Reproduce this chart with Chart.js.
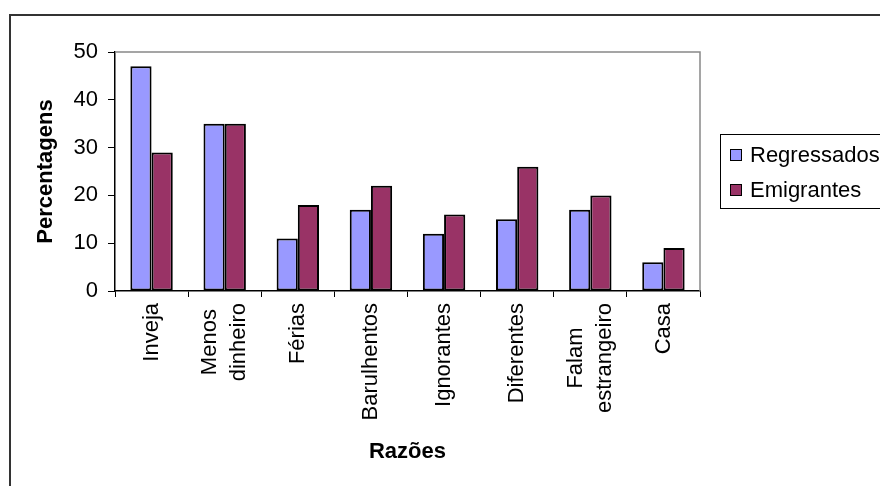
<!DOCTYPE html>
<html>
<head>
<meta charset="utf-8">
<script src="https://cdn.jsdelivr.net/npm/chart.js@4.4.1/dist/chart.umd.min.js"></script>
<style>
  html, body { margin: 0; padding: 0; background: #fff; }
  canvas { display: block; }
</style>
</head>
<body>
<canvas id="c" width="880" height="486"></canvas>
<script>
// Categories (reasons) and the two series, in percent
const categories = [
  'Inveja',
  ['Menos', 'dinheiro'],
  'Férias',
  'Barulhentos',
  'Ignorantes',
  'Diferentes',
  ['Falam', 'estrangeiro'],
  'Casa'
];
const regressados = [47, 35, 11, 17, 12, 15, 17, 6];
const emigrantes = [29, 35, 18, 22, 16, 26, 20, 9];
const seriesNames = ['Regressados', 'Emigrantes'];
const yTicks = [0, 10, 20, 30, 40, 50];

const FONT = '"Liberation Sans", Arial, sans-serif';

// White page, outer frame and the grey plot-area border
const framePlugin = {
  id: 'frame',
  beforeDraw(chart) {
    const ctx = chart.ctx;
    ctx.save();
    ctx.fillStyle = '#fff';
    ctx.fillRect(0, 0, chart.width, chart.height);
    ctx.strokeStyle = '#333';
    ctx.lineWidth = 2;
    ctx.beginPath();
    ctx.moveTo(10, chart.height + 2);
    ctx.lineTo(10, 15);
    ctx.lineTo(chart.width + 2, 15);
    ctx.stroke();
    ctx.restore();

    // Rotated category labels: centre the block on its tick and
    // centre the lines of a two-line label against each other
    const scale = chart.scales.x;
    const items = scale.getLabelItems();
    items.forEach(it => {
      if (it._centred) return;
      it._centred = true;
      const lines = Array.isArray(it.label) ? it.label : [it.label];
      ctx.save();
      ctx.font = it.font.string;
      const w = Math.max(...lines.map(l => ctx.measureText(l).width));
      ctx.restore();
      const [x, y] = it.options.translation;
      const lh = it.font.lineHeight;
      it.options.translation = [x - (lines.length - 1) * lh / 2, y + w / 2];
      it.options.textAlign = 'center';
    });
  },
  beforeDatasetsDraw(chart) {
    const { ctx, chartArea: a } = chart;
    ctx.save();
    ctx.strokeStyle = '#888';
    ctx.lineWidth = 1.5;
    ctx.beginPath();
    ctx.moveTo(a.left, a.top);
    ctx.lineTo(a.right, a.top);
    ctx.lineTo(a.right, a.bottom);
    ctx.stroke();
    ctx.restore();
  }
};

// Boxed legend on the right, built from the datasets
const boxLegend = {
  id: 'boxLegend',
  afterDraw(chart) {
    const ctx = chart.ctx;
    const x = 720, y = 134, h = 74;
    ctx.save();
    ctx.strokeStyle = '#000';
    ctx.lineWidth = 1;
    ctx.strokeRect(x + 0.5, y + 0.5, chart.width, h);
    ctx.font = '22px ' + FONT;
    ctx.textBaseline = 'middle';
    chart.data.datasets.forEach((ds, i) => {
      const cy = y + 21 + i * 35;
      ctx.fillStyle = ds.backgroundColor;
      ctx.fillRect(730, cy - 6, 12, 12);
      ctx.strokeStyle = '#000';
      ctx.lineWidth = 1;
      ctx.strokeRect(730.5, cy - 5.5, 11, 11);
      ctx.fillStyle = '#000';
      ctx.fillText(ds.label, 750, cy + 1);
    });
    ctx.restore();
  }
};

const barStyle = {
  borderColor: '#000',
  borderWidth: 2,
  borderSkipped: false,
  categoryPercentage: 0.58,
  barPercentage: 1.0
};

new Chart(document.getElementById('c'), {
  type: 'bar',
  data: {
    labels: categories,
    datasets: [
      Object.assign({ label: seriesNames[0], data: regressados, backgroundColor: '#9999FF' }, barStyle),
      Object.assign({ label: seriesNames[1], data: emigrantes, backgroundColor: '#993366' }, barStyle)
    ]
  },
  options: {
    responsive: false,
    animation: false,
    devicePixelRatio: 1,
    layout: { padding: { top: 52, right: 180, left: 0, bottom: 0 } },
    plugins: {
      legend: { display: false },
      tooltip: { enabled: false }
    },
    scales: {
      x: {
        afterFit(scale) { scale.height = 195; },
        offset: true,
        grid: {
          offset: true,
          drawOnChartArea: false,
          drawTicks: true,
          tickLength: 6,
          color: '#000',
          lineWidth: 1
        },
        border: { display: true, color: '#000', width: 1.5 },
        ticks: {
          autoSkip: false,
          minRotation: 90,
          maxRotation: 90,
          padding: 6,
          color: '#000',
          font: { family: FONT, size: 22, lineHeight: 1.34 }
        },
        title: {
          display: true,
          text: 'Razões',
          color: '#000',
          font: { family: FONT, size: 22, weight: 'bold', lineHeight: 1.2 },
          padding: { top: 0, bottom: 21 }
        }
      },
      y: {
        afterFit(scale) { scale.width = 115; },
        min: 0,
        max: 50,
        afterBuildTicks(scale) { scale.ticks = yTicks.map(v => ({ value: v })); },
        grid: {
          drawOnChartArea: false,
          drawTicks: true,
          tickLength: 7,
          color: '#000',
          lineWidth: 1
        },
        border: { display: true, color: '#000', width: 1.5 },
        ticks: {
          padding: 10,
          color: '#000',
          font: { family: FONT, size: 22 }
        },
        title: {
          display: true,
          text: 'Percentagens',
          color: '#000',
          font: { family: FONT, size: 22, weight: 'bold', lineHeight: 1.2 },
          padding: { top: 33, bottom: 0 }
        }
      }
    }
  },
  plugins: [framePlugin, boxLegend]
});
</script>
</body>
</html>
